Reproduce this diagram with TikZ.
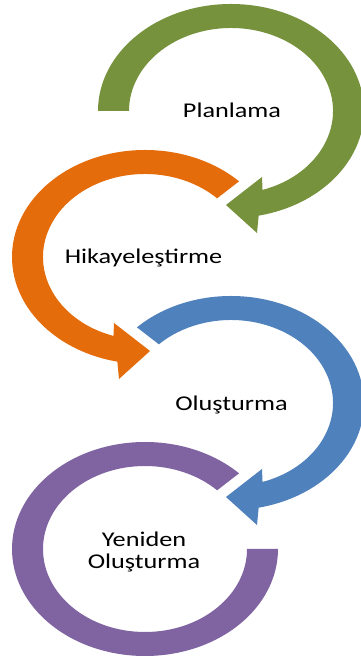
\documentclass[tikz,border=0pt]{standalone}
\usepackage{fontspec}
\setmainfont{Carlito}
\definecolor{stepgreen}{HTML}{76923C}
\definecolor{steporange}{HTML}{E46C0A}
\definecolor{stepblue}{HTML}{4F81BD}
\definecolor{steppurple}{HTML}{8064A2}
\begin{document}
\begin{tikzpicture}[x=1pt,y=1pt,
  label/.style={font=\fontsize{21}{22}\selectfont, text=black, inner sep=0pt, xscale=1.25, align=center}]
\useasboundingbox[fill=white] (0,0) rectangle (361,658);

% Planlama: clockwise ring from the left side round to the bottom
\fill[stepgreen, shift={(231,547)}]
  (180:133 and 107) arc[start angle=180, end angle=-78, x radius=133, y radius=107]
  -- (26,-122) -- (-5,-94) -- (31,-66)
  -- (-72:102 and 83) arc[start angle=-72, end angle=180, x radius=102, y radius=83] -- cycle;

% Hikayelestirme: counter-clockwise ring from the upper right to the bottom
\fill[steporange, shift={(145,401)}]
  (45:133 and 107) arc[start angle=45, end angle=258, x radius=133, y radius=107]
  -- (-26,-122) -- (5,-94) -- (-31,-66)
  -- (252:102 and 83) arc[start angle=252, end angle=45, x radius=102, y radius=83] -- cycle;

% Olusturma: clockwise ring from the upper left to the bottom
\fill[stepblue, shift={(231,255)}]
  (135:133 and 107) arc[start angle=135, end angle=-78, x radius=133, y radius=107]
  -- (26,-122) -- (-5,-94) -- (31,-66)
  -- (-72:102 and 83) arc[start angle=-72, end angle=135, x radius=102, y radius=83] -- cycle;

% Yeniden Olusturma: open ring without a head
\fill[steppurple, shift={(145,109)}]
  (45:133 and 107) arc[start angle=45, end angle=360, x radius=133, y radius=107]
  -- (0:102 and 83) arc[start angle=360, end angle=45, x radius=102, y radius=83] -- cycle;

\node[label, anchor=base] (plan) at (232,540) {Planlama};
\node[label, anchor=base] (hikaye) at (143.5,394) {Hikayeleştirme};
\node[label, anchor=base] (olus) at (231.5,247) {Oluşturma};
\node[label, anchor=center] (yeniden) at (144,106) {Yeniden\\Oluşturma};
\end{tikzpicture}
\end{document}
